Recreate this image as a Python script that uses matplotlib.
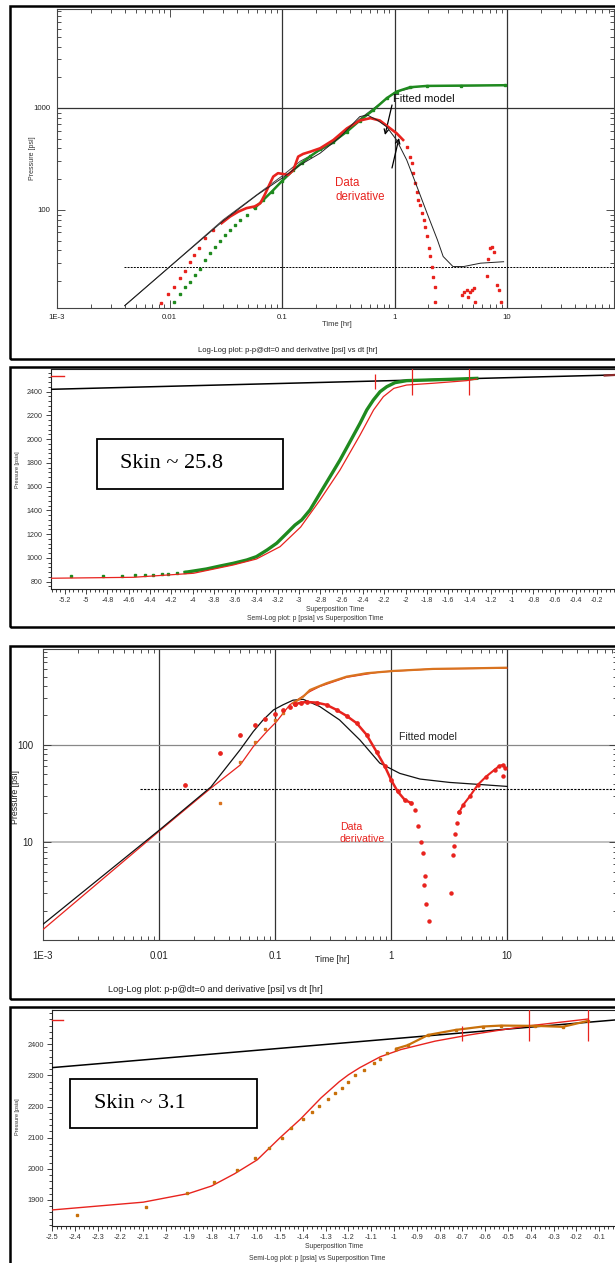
import matplotlib
matplotlib.use('Agg')
import matplotlib.pyplot as plt
import numpy as np
from matplotlib.patches import Rectangle
from matplotlib.ticker import (FixedLocator, FixedFormatter, LogLocator, NullFormatter,
                               MultipleLocator, FormatStrFormatter)

plt.rcParams['font.family'] = ['Liberation Sans', 'DejaVu Sans']
plt.rcParams['axes.unicode_minus'] = False

# ---------------- data: panel 1 (log-log, skin 25.8 case) ----------------
p1_p_sparse_t = [0.0110, 0.0125, 0.0138, 0.0152, 0.0168, 0.0187, 0.0207, 0.0229, 0.0254,
                 0.0281, 0.0311, 0.0345, 0.0382, 0.0423, 0.0483]
p1_p_sparse_y = [12.6, 15.0, 17.5, 19.8, 22.9, 26.2, 32.3, 37.6, 43.7, 50.0, 56.9, 63.7,
                 71.3, 79.8, 89.4]
p1_p_dense_t = [0.057, 0.068, 0.081, 0.099, 0.126, 0.150, 0.178, 0.218, 0.286, 0.377, 0.49,
                0.648, 0.85, 1.04, 1.37, 1.94, 3.86, 9.6]
p1_p_dense_y = [104, 125, 151, 190, 246, 290, 335, 393, 467, 586, 752, 955, 1245, 1445,
                1596, 1644, 1655, 1670]

p1_d_sparse_t = [0.0084, 0.00975, 0.0110, 0.0125, 0.0138, 0.0152, 0.0166, 0.0182, 0.0207, 0.0245]
p1_d_sparse_y = [12.2, 14.9, 17.7, 21.4, 25.4, 30.7, 36.0, 42.1, 52.7, 63.7]
p1_d_dense_t = [0.029, 0.0345, 0.0408, 0.0483, 0.057, 0.064, 0.070, 0.077, 0.0835, 0.092,
                0.102, 0.113, 0.126, 0.139, 0.154, 0.178, 0.218, 0.286, 0.377, 0.49, 0.61,
                0.74, 0.91, 1.04, 1.19]
p1_d_dense_y = [74, 86, 96, 104, 108, 116, 140, 176, 212, 229, 225, 220, 246, 333, 354, 372,
                402, 485, 630, 752, 794, 752, 632, 565, 485]
p1_d_fall_t = [1.28, 1.37, 1.42, 1.47, 1.52, 1.58, 1.63, 1.69, 1.75, 1.81, 1.88, 1.94, 2.01,
               2.08, 2.15, 2.19, 2.27, 2.30]
p1_d_fall_y = [417, 333, 287, 229, 183, 151, 125, 112, 93, 79.8, 68.6, 54.8, 42.1, 34.9,
               27.8, 22.2, 17.7, 12.6]
p1_d_late_t = [3.95, 4.14, 4.37, 4.5, 4.7, 4.9, 5.07, 5.2, 6.6, 6.8, 7.1, 7.3, 7.6, 8.2, 8.5, 8.9]
p1_d_late_y = [14.7, 15.5, 16.4, 14.1, 15.5, 16.4, 17.1, 12.6, 22.6, 32.9, 42.1, 43.7, 39.0,
               18.4, 16.4, 12.6]

p1_md_t = [0.004, 0.01, 0.03, 0.06, 0.1, 0.145, 0.218, 0.33, 0.49, 0.57, 0.70, 0.85, 1.04,
           1.28, 1.58, 1.94, 2.4, 2.7, 3.3, 4.1, 5.8, 9.3]
p1_md_y = [11.5, 27.6, 78, 140, 205, 276, 360, 523, 821, 853, 760, 653, 485, 309, 169, 93,
           50.8, 34.9, 27.8, 27.8, 30, 31]
p1_mp_t = [0.004, 0.01, 0.03, 0.1, 0.145, 0.286, 0.49, 1.0, 1.6, 9.6]
p1_mp_y = [11.5, 27.6, 80, 215, 300, 450, 780, 1420, 1620, 1670]
p1_stab_level = 27.6
p1_stab_t = [0.0039, 89]

p1_xticks = [1e-3, 1e-2, 1e-1, 1, 10]
p1_xlabels = ['1E-3', '0.01', '0.1', '1', '10']
p1_yticks = [100, 1000]
p1_ylabels = ['100', '1000']

# ---------------- data: panel 2 (semi-log, skin 25.8) ----------------
p2_sparse_x = [-5.144, -4.843, -4.665, -4.540, -4.446, -4.368, -4.290, -4.227, -4.149, -4.07]
p2_sparse_y = [848, 848, 849, 854, 857, 859, 862, 865, 871, 879]
p2_dense_x = [-4.07, -3.99, -3.87, -3.742, -3.617, -3.49, -3.40, -3.30, -3.21, -3.115, -3.038,
              -2.975, -2.897, -2.803, -2.709, -2.615, -2.521, -2.427, -2.364, -2.302, -2.239,
              -2.176, -2.099, -1.989, -1.801, -1.582, -1.331]
p2_dense_y = [879, 890, 907, 932, 955, 983, 1011, 1067, 1124, 1208, 1277, 1320, 1404, 1544,
              1684, 1825, 1979, 2134, 2246, 2330, 2400, 2442, 2476, 2493, 2498, 2504, 2512]
p2_model_x = [-5.338, -4.556, -3.99, -3.617, -3.40, -3.178, -2.985, -2.803, -2.615, -2.427,
              -2.30, -2.208, -2.11, -1.99, -1.74, -1.425, -1.331]
p2_model_y = [829, 837, 871, 941, 991, 1095, 1260, 1488, 1741, 2035, 2246, 2358, 2428, 2456,
              2471, 2493, 2507]
p2_line_x = [-5.33, -0.033]
p2_line_y = [2420, 2541]
p2_pi_x = [-5.33, -5.21]
p2_pi_y = [2535, 2535]
p2_end_x = [-0.13, -0.033]
p2_end_y = [2536, 2541]
p2_mark_x = [-2.29, -1.94, -1.40]
p2_mark_lo = [2420, 2372, 2372]
p2_mark_hi = [2549, 2600, 2600]

# ---------------- data: panel 3 (log-log, skin 3.1 case) ----------------
p3_d_sparse_t = [0.0167, 0.0336, 0.0499, 0.0673, 0.0816, 0.0995, 0.117, 0.134, 0.148]
p3_d_sparse_y = [39, 82, 127, 160, 185, 208, 228, 247, 261]
p3_d_dense_t = [0.148, 0.169, 0.187, 0.228, 0.278, 0.34, 0.414, 0.505, 0.615, 0.75, 0.886,
                1.0, 1.14, 1.31, 1.49]
p3_d_dense_y = [261, 271, 275, 271, 257, 228, 198, 167, 127, 85, 60, 43.9, 33.3, 27.4, 25.3]
p3_d_fall_t = [1.6, 1.7, 1.82, 1.88, 1.92, 1.96, 2.02, 2.11]
p3_d_fall_y = [21.6, 14.6, 10.2, 7.8, 3.7, 4.5, 2.35, 1.55]
p3_d_rise_t = [3.32, 3.39, 3.48, 3.55, 3.68, 3.87]
p3_d_rise_y = [3.03, 7.5, 9.1, 12.2, 16.0, 20.3]
p3_d_late_t = [3.87, 4.19, 4.77, 5.6, 6.6, 7.8, 8.6, 9.3, 9.6]
p3_d_late_y = [20.3, 24.3, 29.6, 39, 47.3, 55.5, 61, 62.5, 57.7]
p3_d_last_t = [9.3]
p3_d_last_y = [48.2]

p3_p_sparse_t = [0.0336, 0.0499, 0.0673, 0.0816, 0.0995, 0.117]
p3_p_sparse_y = [25.6, 67.5, 108, 145, 180, 211]
p3_p_dense_t = [0.143, 0.175, 0.2, 0.278, 0.414, 0.615, 1.05, 2.3, 5.1, 9.8]
p3_p_dense_y = [267, 312, 365, 428, 500, 542, 572, 600, 609, 617]

p3_mp_t = [0.001, 0.01, 0.028, 0.05, 0.065, 0.085, 0.103, 0.134, 0.2, 0.243, 0.414, 0.8, 2.3, 10]
p3_mp_y = [1.28, 13.0, 36, 62, 96, 137, 173, 257, 352, 396, 492, 558, 600, 612]
p3_md_t = [0.001, 0.01, 0.028, 0.05, 0.065, 0.079, 0.097, 0.117, 0.143, 0.175, 0.243, 0.36,
           0.54, 0.8, 1.19, 1.78, 3.2, 5.9, 10]
p3_md_y = [1.45, 13.3, 37, 89, 137, 180, 228, 257, 287, 293, 247, 180, 112, 65, 51, 44.6,
           41.2, 39.2, 37.5]
p3_stab_level = 35.5
p3_stab_t = [0.0069, 89]

p3_xticks = [1e-3, 1e-2, 1e-1, 1, 10]
p3_xlabels = ['1E-3', '0.01', '0.1', '1', '10']
p3_yticks = [10, 100]
p3_ylabels = ['10', '100']

# ---------------- data: panel 4 (semi-log, skin 3.1) ----------------
p4_dots_x = [-2.39, -2.09, -1.91, -1.79, -1.69, -1.61, -1.55, -1.49, -1.45, -1.40, -1.36,
             -1.33, -1.29, -1.26, -1.23, -1.20, -1.17, -1.13, -1.09, -1.06, -1.03, -0.99]
p4_dots_y = [1852, 1878, 1923, 1959, 1997, 2034, 2066, 2100, 2130, 2159, 2182, 2203, 2225,
             2243, 2260, 2280, 2300, 2318, 2340, 2354, 2372, 2386]
p4_dense_x = [-0.99, -0.94, -0.85, -0.73, -0.61, -0.53, -0.38, -0.26, -0.15]
p4_dense_y = [2386, 2397, 2430, 2446, 2457, 2460, 2459, 2456, 2475]
p4_model_x = [-2.5, -2.1, -1.9, -1.8, -1.7, -1.6, -1.5, -1.41, -1.32, -1.24, -1.20, -1.15,
              -1.06, -0.97, -0.82, -0.67, -0.53, -0.41, -0.15]
p4_model_y = [1868, 1893, 1921, 1945, 1984, 2029, 2100, 2160, 2228, 2280, 2302, 2325, 2360,
              2383, 2410, 2430, 2446, 2459, 2481]
p4_line_x = [-2.5, -0.031]
p4_line_y = [2325, 2478]
p4_pi_x = [-2.5, -2.452]
p4_pi_y = [2478, 2478]
p4_mark_x = [-0.70, -0.41, -0.15]
p4_mark_lo = [2412, 2412, 2412]
p4_mark_hi = [2459, 2520, 2520]

# ---------------- figure set-up ----------------
W, H = 615, 1263
fig = plt.figure(figsize=(W / 100, H / 100), dpi=100)
fig.patch.set_facecolor('white')

GREEN = '#1f8a1f'
RED = '#e8231e'
ORANGE = '#d9731f'
BROWN = '#c8700a'
TICKC = '#333333'


def add_ax(l, t, r, b):
    return fig.add_axes([l / W, 1 - b / H, (r - l) / W, (b - t) / H])


def ftext(x, y, s, **kw):
    return fig.text(x / W, 1 - y / H, s, **kw)


def frame(l, t, r, b, lw=1.8):
    fig.add_artist(Rectangle((l / W, 1 - b / H), (r - l) / W, (b - t) / H,
                             transform=fig.transFigure, fill=False, ec='black', lw=lw,
                             clip_on=False))


def arrow(x0, y0, x1, y1):
    fig.axes[0].annotate('', xy=(x1, H - y1), xycoords='figure pixels',
                         xytext=(x0, H - y0), textcoords='figure pixels',
                         arrowprops=dict(arrowstyle='->', lw=0.9, color='black',
                                         shrinkA=0, shrinkB=0, mutation_scale=8))


def loglog_setup(ax, xt, xl, yt, yl, fs, xpad, ypad):
    ax.set_xscale('log')
    ax.set_yscale('log')
    ax.xaxis.set_major_locator(FixedLocator(xt))
    ax.xaxis.set_major_formatter(FixedFormatter(xl))
    ax.yaxis.set_major_locator(FixedLocator(yt))
    ax.yaxis.set_major_formatter(FixedFormatter(yl))
    ax.xaxis.set_minor_locator(LogLocator(base=10, subs=np.arange(2, 10), numticks=30))
    ax.yaxis.set_minor_locator(LogLocator(base=10, subs=np.arange(2, 10), numticks=30))
    ax.xaxis.set_minor_formatter(NullFormatter())
    ax.yaxis.set_minor_formatter(NullFormatter())
    ax.tick_params(which='both', direction='in', top=True, right=True, colors=TICKC,
                   width=0.6, labelsize=fs, labelcolor='#222222')
    ax.tick_params(which='major', length=6)
    ax.tick_params(which='minor', length=3)
    ax.tick_params(axis='x', pad=xpad)
    ax.tick_params(axis='y', pad=ypad)
    for s in ax.spines.values():
        s.set_color('#444444')
        s.set_linewidth(0.8)


def semilog_setup(ax, xmaj, xmin, ymaj_ticks, ymin, fs):
    ax.xaxis.set_major_locator(MultipleLocator(xmaj))
    ax.xaxis.set_minor_locator(MultipleLocator(xmin))
    ax.xaxis.set_major_formatter(FormatStrFormatter('%g'))
    ax.yaxis.set_major_locator(FixedLocator(ymaj_ticks))
    ax.yaxis.set_major_formatter(FormatStrFormatter('%d'))
    ax.yaxis.set_minor_locator(MultipleLocator(ymin))
    ax.tick_params(which='both', direction='out', colors='#222222', width=0.6,
                   labelsize=fs, labelcolor='#333333')
    ax.tick_params(which='major', length=3.5, pad=2.5)
    ax.tick_params(which='minor', length=2)
    ax.spines['right'].set_visible(False)
    for s in ax.spines.values():
        s.set_color('#222222')
        s.set_linewidth(0.8)


# ================= Panel 1 =================
frame(10, 6, 640, 359)
ax1 = add_ax(57, 9, 614, 308)
loglog_setup(ax1, p1_xticks, p1_xlabels, p1_yticks, p1_ylabels, 5.6, 4, 5)
ax1.set_xlim(1e-3, 89)
ax1.set_ylim(10.9, 9340)
for v in [0.1, 1, 10]:
    ax1.axvline(v, color='#333333', lw=0.9, zorder=1)
ax1.axhline(1000, color='#333333', lw=0.9, zorder=1)
ax1.plot(p1_stab_t, [p1_stab_level] * 2, color='black', lw=0.7, ls=(0, (2, 1.2)), zorder=2)
ax1.plot(p1_mp_t, p1_mp_y, color='#444444', lw=0.7, zorder=3)
ax1.plot(p1_md_t, p1_md_y, color='#222222', lw=0.7, zorder=6)
ax1.plot(p1_p_sparse_t, p1_p_sparse_y, ls='none', marker='s', ms=1.6, color=GREEN, zorder=4)
ax1.plot(p1_p_dense_t, p1_p_dense_y, color=GREEN, lw=1.8, zorder=4)
ax1.plot(p1_p_dense_t, p1_p_dense_y, ls='none', marker='s', ms=1.6, color=GREEN, zorder=4)
ax1.plot(p1_d_sparse_t, p1_d_sparse_y, ls='none', marker='s', ms=1.6, color=RED, zorder=5)
ax1.plot(p1_d_dense_t, p1_d_dense_y, color=RED, lw=1.9, zorder=5)
ax1.plot(p1_d_fall_t, p1_d_fall_y, ls='none', marker='s', ms=1.5, color=RED, zorder=5)
ax1.plot(p1_d_late_t, p1_d_late_y, ls='none', marker='s', ms=1.5, color=RED, zorder=5)

ftext(33, 158, 'Pressure [psi]', rotation=90, ha='center', va='center', fontsize=5, color='#333')
ftext(337, 324, 'Time [hr]', ha='center', va='center', fontsize=5.5, color='#333')
ftext(288, 350, 'Log-Log plot: p-p@dt=0 and derivative [psi] vs dt [hr]', ha='center',
      va='center', fontsize=5.5, color='#222')
ftext(393, 99, 'Fitted model', ha='left', va='center', fontsize=8, color='#111')
ftext(335, 190, 'Data\nderivative', ha='left', va='center', fontsize=8.3, color=RED,
      linespacing=1.2)
arrow(392, 105, 385, 135)
arrow(392, 168, 399, 138)

# ================= Panel 2 =================
frame(10, 367, 640, 627)
ax2 = add_ax(51, 369, 615, 589)
semilog_setup(ax2, 0.2, 0.04, [800, 1000, 1200, 1400, 1600, 1800, 2000, 2200, 2400], 40, 5.1)
ax2.set_xlim(-5.329, -0.033)
ax2.set_ylim(738.5, 2591)
ax2.plot(p2_line_x, p2_line_y, color='black', lw=1.1, zorder=3)
ax2.plot(p2_pi_x, p2_pi_y, color=RED, lw=1.0, zorder=3, clip_on=False)
ax2.plot(p2_end_x, p2_end_y, color='#8b2a2a', lw=1.6, zorder=4)
ax2.plot(p2_sparse_x, p2_sparse_y, ls='none', marker='s', ms=1.7, color=GREEN, zorder=4)
ax2.plot(p2_dense_x, p2_dense_y, color=GREEN, lw=2.4, zorder=4)
ax2.plot(p2_model_x, p2_model_y, color=RED, lw=0.9, zorder=5)
ax2.vlines(p2_mark_x, p2_mark_lo, p2_mark_hi, color=RED, lw=0.9, zorder=6)
fig.add_artist(Rectangle((97 / W, 1 - 489 / H), 186 / W, 50 / H, transform=fig.transFigure,
                         fill=True, fc='white', ec='black', lw=1.3))
ftext(172, 463, 'Skin ~ 25.8', ha='center', va='center', fontsize=16,
      family=['Liberation Serif', 'DejaVu Serif'], color='black')
ftext(18, 470, 'Pressure [psia]', rotation=90, ha='center', va='center', fontsize=4,
      color='#333')
ftext(335, 609, 'Superposition Time', ha='center', va='center', fontsize=4.9, color='#333')
ftext(315, 618, 'Semi-Log plot: p [psia] vs Superposition Time', ha='center', va='center',
      fontsize=4.9, color='#333')

# ================= Panel 3 =================
frame(10, 646, 640, 999)
ax3 = add_ax(43, 649, 617, 940)
loglog_setup(ax3, p3_xticks, p3_xlabels, p3_yticks, p3_ylabels, 7, 8, 7)
ax3.set_xlim(1e-3, 88.7)
ax3.set_ylim(1.0, 960)
for v in [0.01, 0.1, 1, 10]:
    ax3.axvline(v, color='#333333', lw=0.9, zorder=1)
ax3.axhline(100, color='#888888', lw=0.9, zorder=1)
ax3.axhline(10, color='#bbbbbb', lw=1.3, zorder=1)
ax3.plot(p3_stab_t, [p3_stab_level] * 2, color='black', lw=0.8, ls=(0, (2, 1.2)), zorder=2)
ax3.plot(p3_mp_t, p3_mp_y, color=RED, lw=0.9, zorder=3)
ax3.plot(p3_md_t, p3_md_y, color='#111111', lw=0.9, zorder=4)
ax3.plot(p3_p_sparse_t, p3_p_sparse_y, ls='none', marker='s', ms=1.5, color=ORANGE, zorder=5)
ax3.plot(p3_p_dense_t, p3_p_dense_y, color=ORANGE, lw=1.6, zorder=5)
ax3.plot(p3_d_sparse_t, p3_d_sparse_y, ls='none', marker='o', ms=2.4, color=RED, zorder=6)
ax3.plot(p3_d_dense_t, p3_d_dense_y, color=RED, lw=1.8, zorder=6)
ax3.plot(p3_d_dense_t, p3_d_dense_y, ls='none', marker='o', ms=2.4, color=RED, zorder=6)
ax3.plot(p3_d_fall_t, p3_d_fall_y, ls='none', marker='o', ms=2.2, color=RED, zorder=6)
ax3.plot(p3_d_rise_t, p3_d_rise_y, ls='none', marker='o', ms=2.2, color=RED, zorder=6)
ax3.plot(p3_d_late_t, p3_d_late_y, color=RED, lw=1.5, zorder=6)
ax3.plot(p3_d_late_t, p3_d_late_y, ls='none', marker='o', ms=2.2, color=RED, zorder=6)
ax3.plot(p3_d_last_t, p3_d_last_y, ls='none', marker='o', ms=2.2, color=RED, zorder=6)

ftext(15, 797, 'Pressure [psi]', rotation=90, ha='center', va='center', fontsize=6.3,
      color='#222')
ftext(332, 959, 'Time [hr]', ha='center', va='center', fontsize=6.3, color='#222')
ftext(215, 989, 'Log-Log plot: p-p@dt=0 and derivative [psi] vs dt [hr]', ha='center',
      va='center', fontsize=6.6, color='#222')
ftext(399, 737, 'Fitted model', ha='left', va='center', fontsize=7.6, color='#222')
ftext(340, 833, 'Data\nderivative', ha='left', va='center', fontsize=7.6, color=RED,
      linespacing=1.15)
arrow(416, 750, 408, 777)
arrow(391, 825, 398, 801)

# ================= Panel 4 =================
frame(10, 1007, 640, 1280)
ax4 = add_ax(52, 1010, 615, 1226)
semilog_setup(ax4, 0.1, 0.02, [1900, 2000, 2100, 2200, 2300, 2400], 20, 5.3)
ax4.set_xlim(-2.5001, -0.031)
ax4.set_ylim(1816.5, 2510)
ax4.plot(p4_line_x, p4_line_y, color='black', lw=1.1, zorder=3)
ax4.plot(p4_pi_x, p4_pi_y, color=RED, lw=1.0, zorder=3, clip_on=False)
ax4.plot(p4_model_x, p4_model_y, color=RED, lw=1.0, zorder=4)
ax4.plot(p4_dots_x, p4_dots_y, ls='none', marker='s', ms=1.7, color=BROWN, zorder=5)
ax4.plot(p4_dense_x, p4_dense_y, color=BROWN, lw=1.6, zorder=5)
ax4.plot(p4_dense_x, p4_dense_y, ls='none', marker='s', ms=1.7, color=BROWN, zorder=5)
ax4.vlines(p4_mark_x, p4_mark_lo, p4_mark_hi, color=RED, lw=0.9, zorder=6)
fig.add_artist(Rectangle((70 / W, 1 - 1128 / H), 187 / W, 49 / H, transform=fig.transFigure,
                         fill=True, fc='white', ec='black', lw=1.3))
ftext(140, 1103, 'Skin ~ 3.1', ha='center', va='center', fontsize=16,
      family=['Liberation Serif', 'DejaVu Serif'], color='black')
ftext(18, 1117, 'Pressure [psia]', rotation=90, ha='center', va='center', fontsize=4,
      color='#333')
ftext(334, 1246, 'Superposition Time', ha='center', va='center', fontsize=4.9, color='#333')
ftext(317, 1258, 'Semi-Log plot: p [psia] vs Superposition Time', ha='center', va='center',
      fontsize=4.9, color='#333')

fig.savefig('out.png', dpi=100)
